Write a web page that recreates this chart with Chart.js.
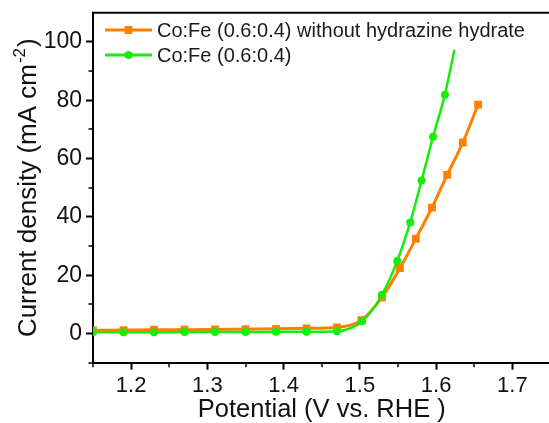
<!DOCTYPE html>
<html>
<head>
<meta charset="utf-8">
<script src="https://cdn.jsdelivr.net/npm/chart.js@4/dist/chart.umd.min.js"></script>
<style>
  html, body { margin: 0; padding: 0; background: #fff; overflow: hidden; }
  canvas { display: block; }
</style>
</head>
<body>
<canvas id="lsvChart" width="556" height="423"></canvas>
<script>
const seriesNames = ["Co:Fe (0.6:0.4) without hydrazine hydrate", "Co:Fe (0.6:0.4)"];

// potential (V vs. RHE) and current density (mA cm-2)
const plainPotential = [1.15, 1.19, 1.23, 1.27, 1.31, 1.35, 1.39, 1.43, 1.47, 1.502, 1.529, 1.5525, 1.5733, 1.5946, 1.6145, 1.635, 1.655];
const plainCurrent = [1.1, 1.2, 1.3, 1.3, 1.4, 1.5, 1.6, 1.8, 2.1, 4.6, 12.4, 22.4, 32.5, 43.2, 54.4, 65.5, 78.5];

const hydPotential = [1.15, 1.19, 1.23, 1.27, 1.31, 1.35, 1.39, 1.43, 1.47, 1.503, 1.529, 1.549, 1.566, 1.581, 1.596, 1.6115, 1.624];
const hydCurrent = [0.4, 0.4, 0.4, 0.5, 0.5, 0.5, 0.6, 0.6, 0.8, 4.2, 13.3, 24.9, 38.1, 52.5, 67.5, 81.9, 97.3];
// the last green point is the end of the line, it carries no marker
const hydMarked = hydPotential.length - 1;

const xTicks = [1.2, 1.3, 1.4, 1.5, 1.6, 1.7];
const xMinor = [1.15, 1.25, 1.35, 1.45, 1.55, 1.65, 1.75];
const yTicks = [0, 20, 40, 60, 80, 100];
const yMinor = [-10, 10, 30, 50, 70, 90];

const xTitle = "Potential (V vs. RHE )";
const yTitle = ["Current density (mA cm", "-2", ")"];

const ORANGE = "#ff7f00";
const GREEN = "#14ee0a";
const FONT = "'Liberation Sans', Arial, sans-serif";

const toPoints = (xs, ys) => xs.map((x, i) => ({ x: x, y: ys[i] }));

const frame = {
  id: "frame",
  beforeDraw(chart) {
    const c = chart.ctx;
    c.save();
    c.fillStyle = "#fff";
    c.fillRect(0, 0, chart.width, chart.height);
    c.restore();
  },
  afterDraw(chart) {
    const c = chart.ctx;
    const a = chart.chartArea;
    const xs = chart.scales.x;
    const ys = chart.scales.y;
    c.save();
    c.strokeStyle = "#000";
    c.lineWidth = 2;
    c.beginPath();
    c.moveTo(a.left - 1, a.top);
    c.lineTo(a.right, a.top);
    c.lineTo(a.right, a.bottom);
    c.stroke();

    // short minor ticks
    c.lineWidth = 1.5;
    c.beginPath();
    xMinor.forEach((v) => {
      const px = Math.round(xs.getPixelForValue(v));
      c.moveTo(px, a.bottom);
      c.lineTo(px, a.bottom + 4.5);
    });
    yMinor.forEach((v) => {
      const py = Math.round(ys.getPixelForValue(v));
      c.moveTo(a.left, py);
      c.lineTo(a.left - 4.5, py);
    });
    c.stroke();

    // y title with a real superscript
    const big = "26px " + FONT;
    const small = "17px " + FONT;
    c.font = big;
    const w0 = c.measureText(yTitle[0]).width;
    const w2 = c.measureText(yTitle[2]).width;
    c.font = small;
    const w1 = c.measureText(yTitle[1]).width + 2;
    const total = w0 + w1 + w2;
    c.translate(36, (a.top + a.bottom) / 2);
    c.rotate(-Math.PI / 2);
    c.fillStyle = "#111";
    c.textBaseline = "alphabetic";
    c.textAlign = "left";
    let pos = -total / 2;
    c.font = big;
    c.fillText(yTitle[0], pos, 0);
    pos += w0;
    c.font = small;
    c.fillText(yTitle[1], pos + 1, -11);
    pos += w1;
    c.font = big;
    c.fillText(yTitle[2], pos, 0);
    c.setTransform(1, 0, 0, 1, 0, 0);

    // legend in the upper left of the plot
    const rows = [
      { text: seriesNames[0], color: ORANGE, style: "rect", radius: 5.5, y: 30 },
      { text: seriesNames[1], color: GREEN, style: "circle", radius: 4, y: 55 },
    ];
    rows.forEach((r) => {
      c.strokeStyle = r.color;
      c.lineWidth = 3;
      c.beginPath();
      c.moveTo(105, r.y);
      c.lineTo(152, r.y);
      c.stroke();
      c.fillStyle = r.color;
      Chart.helpers.drawPoint(c, { pointStyle: r.style, radius: r.radius, borderWidth: 0 }, 128.5, r.y);
      c.fillStyle = "#1a1a1a";
      c.font = "20px " + FONT;
      c.textBaseline = "middle";
      c.textAlign = "left";
      c.fillText(r.text, 157, r.y + 1);
    });
    c.restore();
  },
};

new Chart(document.getElementById("lsvChart"), {
  type: "line",
  data: {
    datasets: [
      {
        label: seriesNames[0],
        data: toPoints(plainPotential, plainCurrent),
        borderColor: ORANGE,
        backgroundColor: ORANGE,
        borderWidth: 3,
        pointStyle: "rect",
        pointRadius: 5.5,
        pointBorderWidth: 0,
        cubicInterpolationMode: "monotone",
        order: 2,
      },
      {
        label: seriesNames[1],
        data: toPoints(hydPotential, hydCurrent),
        borderColor: GREEN,
        backgroundColor: GREEN,
        borderWidth: 2.5,
        pointStyle: "circle",
        pointRadius: (ctx) => (ctx.dataIndex >= hydMarked ? 0 : 4),
        pointBorderWidth: 0,
        cubicInterpolationMode: "monotone",
        order: 1,
      },
    ],
  },
  options: {
    responsive: false,
    animation: false,
    devicePixelRatio: 1,
    layout: { padding: { top: 12.7, right: 2.4, left: 0, bottom: 0 } },
    plugins: { legend: { display: false }, tooltip: { enabled: false } },
    scales: {
      x: {
        type: "linear",
        min: 1.15,
        max: 1.75,
        afterFit: (s) => {
          s.height = 60.3;
          s.paddingLeft = 0;
          s.paddingRight = 0;
        },
        afterBuildTicks: (s) => {
          s.ticks = xTicks.map((v) => ({ value: v }));
        },
        ticks: {
          autoSkip: false,
          maxRotation: 0,
          padding: 3,
          color: "#111",
          font: { family: FONT, size: 22 },
          callback: (v) => v.toFixed(1),
        },
        grid: { drawOnChartArea: false, tickLength: 7, tickWidth: 2, tickColor: "#000" },
        border: { color: "#000", width: 2 },
        title: {
          display: true,
          text: xTitle,
          color: "#111",
          font: { family: FONT, size: 25.5, lineHeight: 1 },
          padding: { top: 0, bottom: 0 },
        },
      },
      y: {
        type: "linear",
        min: -10,
        max: 110,
        afterFit: (s) => {
          s.width = 93;
          s.paddingTop = 0;
          s.paddingBottom = 0;
        },
        afterBuildTicks: (s) => {
          s.ticks = yTicks.map((v) => ({ value: v }));
        },
        ticks: {
          autoSkip: false,
          padding: 4,
          color: "#111",
          font: { family: FONT, size: 23 },
          callback: (v) => String(v),
        },
        grid: { drawOnChartArea: false, tickLength: 7, tickWidth: 2, tickColor: "#000" },
        border: { color: "#000", width: 2 },
        title: { display: false },
      },
    },
  },
  plugins: [frame],
});
</script>
</body>
</html>
